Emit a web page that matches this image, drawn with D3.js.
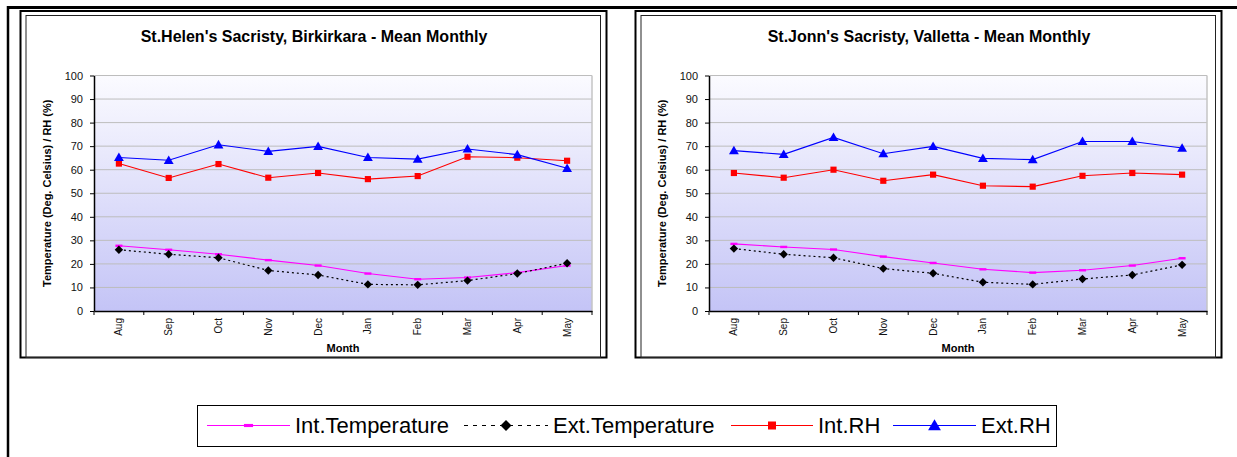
<!DOCTYPE html>
<html>
<head>
<meta charset="utf-8">
<script src="https://cdn.jsdelivr.net/npm/d3@7"></script>
<style>
  body { margin: 0; background: #fff; }
  svg { display: block; font-family: Arial, "Liberation Sans", sans-serif; }
</style>
</head>
<body>
<svg id="chart" width="1237" height="457"></svg>
<script>
// Months of the monitoring campaign
const months = ["Aug", "Sep", "Oct", "Nov", "Dec", "Jan", "Feb", "Mar", "Apr", "May"];
const yTicks = [0, 10, 20, 30, 40, 50, 60, 70, 80, 90, 100];
const seriesNames = ["Int.Temperature", "Ext.Temperature", "Int.RH", "Ext.RH"];

// St.Helen's Sacristy, Birkirkara
const birkirkaraIntTemp = [27.7, 26.0, 24.1, 21.6, 19.3, 15.9, 13.5, 14.2, 16.3, 19.3];
const birkirkaraExtTemp = [26.0, 24.1, 22.6, 17.2, 15.3, 11.3, 11.1, 12.9, 15.9, 20.3];
const birkirkaraIntRH   = [62.6, 56.5, 62.4, 56.6, 58.6, 56.0, 57.3, 65.5, 65.1, 63.8];
const birkirkaraExtRH   = [65.2, 64.0, 70.6, 67.8, 69.9, 65.2, 64.5, 68.8, 66.4, 60.6];

// St.Jonn's Sacristy, Valletta
const vallettaIntTemp = [28.5, 27.2, 26.1, 23.1, 20.4, 17.7, 16.3, 17.3, 19.3, 22.4];
const vallettaExtTemp = [26.5, 24.1, 22.6, 18.0, 16.0, 12.2, 11.3, 13.6, 15.3, 19.6];
const vallettaIntRH   = [58.6, 56.6, 60.0, 55.3, 57.9, 53.2, 52.8, 57.4, 58.6, 57.9];
const vallettaExtRH   = [68.1, 66.5, 73.7, 66.8, 69.9, 64.8, 64.3, 72.0, 72.0, 69.2];

const panels = [
  { title: "St.Helen's Sacristy, Birkirkara - Mean Monthly",
    series: [birkirkaraIntTemp, birkirkaraExtTemp, birkirkaraIntRH, birkirkaraExtRH], dx: 0 },
  { title: "St.Jonn's Sacristy, Valletta - Mean Monthly",
    series: [vallettaIntTemp, vallettaExtTemp, vallettaIntRH, vallettaExtRH], dx: 615 }
];

// Line and marker style for each series
const styles = [
  { color: "#ff00ff", dash: null,  legendDash: null,  marker: "dash" },
  { color: "#000000", dash: "2,3", legendDash: "4,5", marker: "diamond" },
  { color: "#ff0000", dash: null,  legendDash: null,  marker: "square" },
  { color: "#0000ff", dash: null,  legendDash: null,  marker: "triangle" }
];

const svg = d3.select("#chart");
const defs = svg.append("defs");
const grad = defs.append("linearGradient").attr("id", "plotFill")
  .attr("x1", 0).attr("y1", 0).attr("x2", 0).attr("y2", 1);
grad.append("stop").attr("offset", "0%").attr("stop-color", "#fbfbff");
grad.append("stop").attr("offset", "100%").attr("stop-color", "#c4c4f6");

// Surrounding table frame
svg.append("line").attr("x1", 7).attr("x2", 1237).attr("y1", 7.5).attr("y2", 7.5)
  .attr("stroke", "#000").attr("stroke-width", 3);
svg.append("line").attr("x1", 8).attr("x2", 8).attr("y1", 6).attr("y2", 457)
  .attr("stroke", "#000").attr("stroke-width", 2.5);

function drawMarker(g, type, cx, cy, color, scale) {
  const s = scale || 1;
  if (type === "dash") {
    g.append("rect").attr("x", cx - 3.5 * s).attr("y", cy - 1.2 * s)
      .attr("width", 7 * s).attr("height", 2.4 * s).attr("fill", color);
  } else if (type === "diamond") {
    const r = 4.2 * s;
    g.append("path")
      .attr("d", `M${cx},${cy - r}L${cx + r},${cy}L${cx},${cy + r}L${cx - r},${cy}Z`)
      .attr("fill", color);
  } else {
    const sym = type === "square" ? d3.symbolSquare : d3.symbolTriangle;
    const size = type === "square" ? 38 : 42;
    g.append("path")
      .attr("d", d3.symbol().type(sym).size(size * s * s)())
      .attr("transform", `translate(${cx},${cy + (type === "triangle" ? 0.8 * s : 0)})`)
      .attr("fill", color);
  }
}

function drawPanel(p) {
  const ox = p.dx;
  const g = svg.append("g");

  // chart object frame (double border)
  g.append("rect").attr("x", 20.5 + ox).attr("y", 11).attr("width", 586).attr("height", 346.5)
    .attr("fill", "#fff").attr("stroke", "#000").attr("stroke-width", 2);
  g.append("rect").attr("x", 26 + ox).attr("y", 15.5).attr("width", 574.5).attr("height", 342)
    .attr("fill", "none").attr("stroke", "#222").attr("stroke-width", 1);

  const left = 94 + ox, right = 592 + ox, top = 75.5, bottom = 311;
  const x = d3.scaleBand().domain(months).range([left, right]).padding(0);
  const y = d3.scaleLinear().domain([0, 100]).range([bottom, top]);

  g.append("text").attr("x", 314 + ox).attr("y", 42)
    .attr("text-anchor", "middle").attr("font-weight", "bold").attr("font-size", 16)
    .text(p.title);

  // plot area
  g.append("rect").attr("x", left).attr("y", top).attr("width", right - left)
    .attr("height", bottom - top).attr("fill", "url(#plotFill)");

  g.append("g").selectAll("line").data(yTicks.filter(d => d > 0)).join("line")
    .attr("x1", left).attr("x2", right).attr("y1", d => y(d)).attr("y2", d => y(d))
    .attr("stroke", "#bdbdbd").attr("stroke-width", 1);
  g.append("line").attr("x1", right).attr("x2", right).attr("y1", top).attr("y2", bottom)
    .attr("stroke", "#c4c4c4").attr("stroke-width", 1.5);

  // y axis
  const ya = g.append("g").attr("transform", `translate(${left},0)`)
    .call(d3.axisLeft(y).tickValues(yTicks).tickSize(4).tickPadding(7).tickSizeOuter(0));
  ya.select(".domain").attr("stroke", "#000").attr("stroke-width", 1.5);
  ya.selectAll(".tick line").attr("stroke", "#000");
  ya.selectAll(".tick text").attr("font-size", 11).attr("fill", "#111")
    .attr("font-family", "Arial, 'Liberation Sans', sans-serif");

  // x axis with rotated month labels
  const xa = g.append("g").attr("transform", `translate(0,${bottom})`)
    .call(d3.axisBottom(x).tickSize(0).tickSizeOuter(0));
  xa.select(".domain").attr("stroke", "#000").attr("stroke-width", 1.5);
  xa.selectAll(".tick text")
    .attr("font-size", 10).attr("fill", "#111")
    .attr("font-family", "Arial, 'Liberation Sans', sans-serif")
    .attr("transform", "rotate(-90)")
    .attr("text-anchor", "end")
    .attr("x", -7).attr("y", 0).attr("dy", "0.35em");
  const bounds = months.map(m => x(m)).concat([x.range()[1]]);
  g.append("g").selectAll("line").data(bounds).join("line")
    .attr("x1", d => d).attr("x2", d => d).attr("y1", bottom).attr("y2", bottom + 4)
    .attr("stroke", "#000").attr("stroke-width", 1);

  g.append("text").attr("x", (left + right) / 2).attr("y", 352)
    .attr("text-anchor", "middle").attr("font-weight", "bold").attr("font-size", 11)
    .text("Month");
  g.append("text")
    .attr("transform", `translate(${51 + ox},${(top + bottom) / 2}) rotate(-90)`)
    .attr("text-anchor", "middle").attr("font-weight", "bold").attr("font-size", 11)
    .text("Temperature (Deg. Celsius) / RH (%)");

  // series lines and markers
  p.series.forEach((vals, i) => {
    const st = styles[i];
    const pts = vals.map((v, k) => [x(months[k]) + x.bandwidth() / 2, y(v)]);
    g.append("path").attr("d", d3.line()(pts)).attr("fill", "none")
      .attr("stroke", st.color).attr("stroke-width", i === 1 ? 1.2 : 1.1)
      .attr("stroke-dasharray", st.dash);
    const mg = g.append("g");
    pts.forEach(([cx, cy]) => drawMarker(mg, st.marker, cx, cy, st.color, 1));
  });
}

panels.forEach(drawPanel);

// shared legend
const lg = svg.append("g");
lg.append("rect").attr("x", 197.5).attr("y", 405.5).attr("width", 859).attr("height", 41)
  .attr("fill", "#fff").attr("stroke", "#000").attr("stroke-width", 1);
const legendPos = [
  { x0: 207, x1: 290, tx: 295 },
  { x0: 464, x1: 548, tx: 553 },
  { x0: 731, x1: 813, tx: 818 },
  { x0: 893, x1: 976, tx: 981 }
];
seriesNames.forEach((name, i) => {
  const st = styles[i], pos = legendPos[i], ly = 425.5;
  lg.append("line").attr("x1", pos.x0).attr("x2", pos.x1).attr("y1", ly).attr("y2", ly)
    .attr("stroke", st.color).attr("stroke-width", 1.2).attr("stroke-dasharray", st.legendDash);
  drawMarker(lg, st.marker, (pos.x0 + pos.x1) / 2, ly, st.color, 1.3);
  lg.append("text").attr("x", pos.tx).attr("y", 433).attr("font-size", 22)
    .attr("fill", "#000").text(name);
});
</script>
</body>
</html>
